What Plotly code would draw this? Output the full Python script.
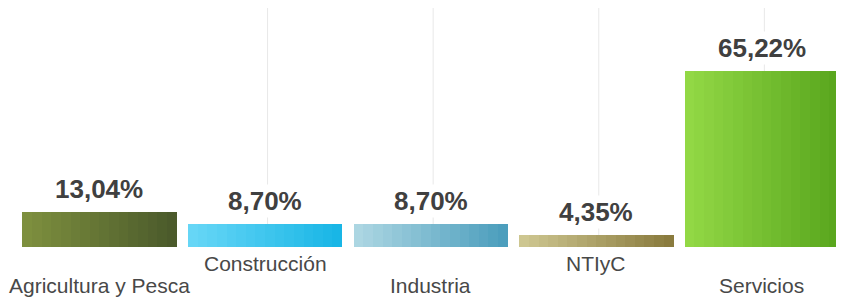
import plotly.graph_objects as go

categories = ["Agricultura y Pesca", "Construcción", "Industria", "NTIyC", "Servicios"]
values = [13.04, 8.70, 8.70, 4.35, 65.22]
value_labels = ["13,04%", "8,70%", "8,70%", "4,35%", "65,22%"]

left_colors = ["#7d8f3e", "#66d6f6", "#acd6e2", "#cdc690", "#92d845"]
right_colors = ["#4b5a2b", "#19b6e6", "#4c9ebd", "#8a7b3e", "#5aa71e"]

def hex2rgb(h):
    h = h.lstrip("#")
    return tuple(int(h[i:i + 2], 16) for i in (0, 2, 4))

def mix(a, b, t):
    ra, rb = hex2rgb(a), hex2rgb(b)
    return "rgb(%d,%d,%d)" % tuple(round(ra[k] + (rb[k] - ra[k]) * t) for k in range(3))

fig = go.Figure()
N = 16
W = 0.93
xs = list(range(len(categories)))
for i in range(N):
    t = i / (N - 1)
    fig.add_trace(go.Bar(
        x=xs, y=values,
        width=W / N + 0.002,
        offset=-W / 2 + i * W / N,
        marker=dict(color=[mix(l, r, t) for l, r in zip(left_colors, right_colors)], line=dict(width=0)),
        hoverinfo="skip", showlegend=False,
    ))

ytop = 88.52
for k in xs[1:]:
    fig.add_shape(type="line", x0=k + 0.015, x1=k + 0.015, y0=0, y1=ytop, xref="x", yref="y",
                  line=dict(color="#e8e8e8", width=1), layer="below")

for k, (v, lab) in enumerate(zip(values, value_labels)):
    fig.add_annotation(x=k, y=v, text="<b>" + lab + "</b>", showarrow=False, yanchor="middle", yshift=23,
                       bgcolor="white",
                       font=dict(family="Liberation Sans, Arial", size=26, color="#404040"))

for k, c in enumerate(categories):
    fig.add_annotation(x=k, y=0, text=c, showarrow=False, yanchor="middle",
                       yshift=-16 if k % 2 == 1 else -38,
                       font=dict(family="Liberation Sans, Arial", size=21, color="#484848"))

fig.update_layout(
    width=836, height=293,
    margin=dict(l=0, r=0, t=0, b=0),
    plot_bgcolor="white", paper_bgcolor="white",
    barmode="overlay", bargap=0,
    xaxis=dict(range=[-0.5525, 4.496], showgrid=False, zeroline=False, showticklabels=False, fixedrange=True),
    yaxis=dict(range=[-20.0, ytop], showgrid=False, zeroline=False, showticklabels=False, fixedrange=True),
)

fig.write_html("out.html")
